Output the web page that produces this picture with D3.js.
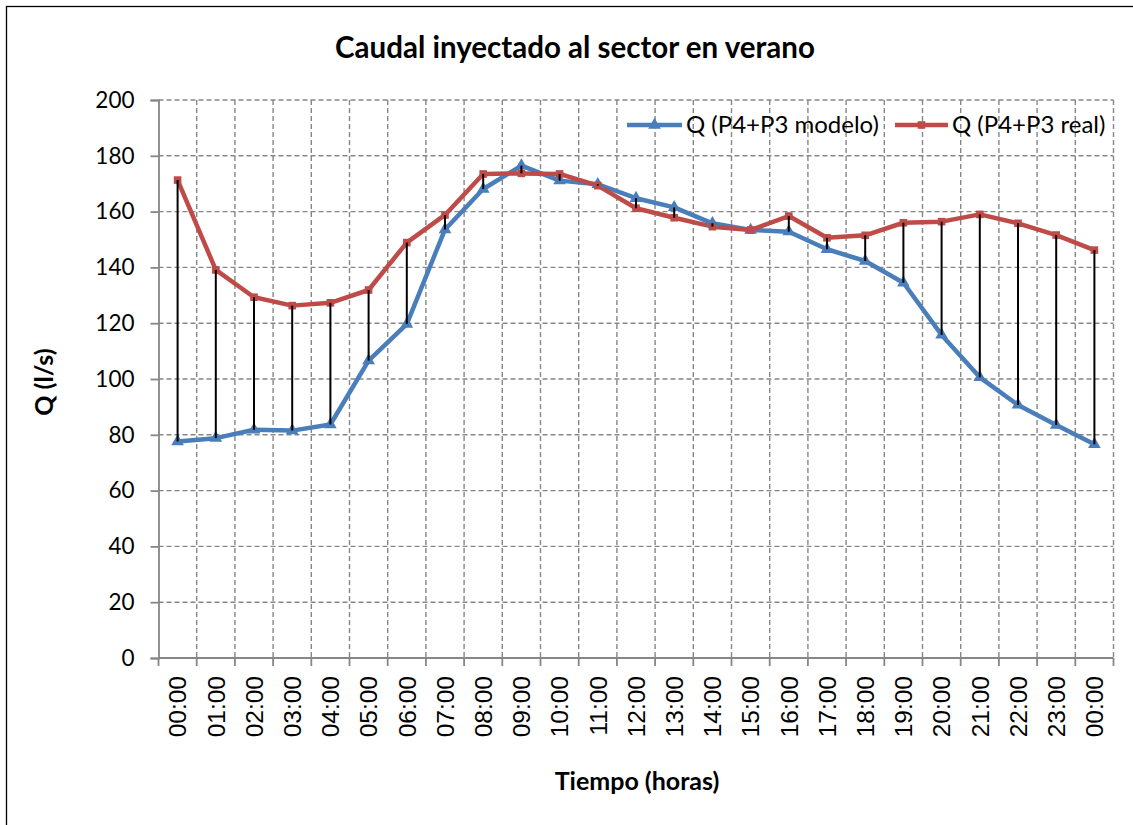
<!DOCTYPE html>
<html>
<head>
<meta charset="utf-8">
<script src="https://cdn.jsdelivr.net/npm/d3@7"></script>
<style>
  html, body { margin: 0; padding: 0; background: #fff; }
  svg { display: block; }
</style>
</head>
<body>
<svg id="chart" width="1133" height="825"></svg>
<script>
// Hourly labels along the time axis (the day wraps back to 00:00)
const horas = ["00:00","01:00","02:00","03:00","04:00","05:00","06:00","07:00","08:00","09:00",
               "10:00","11:00","12:00","13:00","14:00","15:00","16:00","17:00","18:00","19:00",
               "20:00","21:00","22:00","23:00","00:00"];

// Flow injected into the sector (l/s), model vs. measured
const qModelo = [77.6, 78.8, 81.8, 81.5, 83.7, 106.6, 119.7, 153.6, 168.1, 176.5,
                 171.1, 169.8, 164.8, 161.5, 155.8, 153.4, 152.8, 146.5, 142.3, 134.5,
                 115.8, 100.6, 90.7, 83.5, 76.6];
const qReal   = [171.3, 139.1, 129.3, 126.3, 127.3, 131.9, 148.9, 158.8, 173.5, 173.7,
                 173.5, 169.3, 161.2, 157.8, 154.6, 153.4, 158.4, 150.6, 151.5, 156.0,
                 156.4, 159.0, 155.8, 151.6, 146.2];

const yTicks = [0, 20, 40, 60, 80, 100, 120, 140, 160, 180, 200];

const seriesNames = ["Q (P4+P3 modelo)", "Q (P4+P3 real)"];
const seriesColors = ["#4A7EBB", "#BE4B48"];

const svg = d3.select("#chart");
const W = 1133, H = 825;
const plot = { left: 158.5, right: 1113.5, top: 100, bottom: 658 };
const gridColor = "#878787";
const sans = "Lato, 'Open Sans', sans-serif";

// Outer frame of the chart area
svg.append("rect")
  .attr("x", 6.5).attr("y", 6.5)
  .attr("width", W + 10).attr("height", H + 10)
  .attr("fill", "#fff").attr("stroke", "#000").attr("stroke-width", 1.3);

const idx = d3.range(horas.length);
const x = d3.scaleBand().domain(idx).range([plot.left, plot.right]).paddingInner(0).paddingOuter(0);
const y = d3.scaleLinear().domain([0, 200]).range([plot.bottom, plot.top]);
const cx = i => x(i) + x.bandwidth() / 2;

// Gridlines
const grid = svg.append("g");
yTicks.filter(v => v > 0).forEach(v => {
  grid.append("line")
    .attr("x1", plot.left).attr("x2", plot.right)
    .attr("y1", y(v)).attr("y2", y(v))
    .attr("stroke", gridColor).attr("stroke-width", 1.4)
    .attr("stroke-dasharray", "5,3");
});
d3.range(1, horas.length + 1).forEach(k => {
  const gx = plot.left + k * x.bandwidth();
  grid.append("line")
    .attr("x1", gx).attr("x2", gx)
    .attr("y1", plot.top).attr("y2", plot.bottom)
    .attr("stroke", gridColor).attr("stroke-width", 1.4)
    .attr("stroke-dasharray", "5,3");
});

// Y axis
const yAxis = d3.axisLeft(y).tickValues(yTicks).tickSize(8).tickPadding(16);
const yg = svg.append("g").attr("transform", `translate(${plot.left},0)`).call(yAxis);
yg.select(".domain").attr("stroke", gridColor).attr("stroke-width", 1.8);
yg.selectAll(".tick line").attr("stroke", gridColor).attr("stroke-width", 1.8);
yg.selectAll(".tick text")
  .attr("font-family", sans).attr("font-size", 22.5).attr("fill", "#000");

// X axis: ticks at band boundaries, labels centred in each band
const xg = svg.append("g").attr("transform", `translate(0,${plot.bottom})`);
xg.append("line")
  .attr("x1", plot.left).attr("x2", plot.right)
  .attr("stroke", gridColor).attr("stroke-width", 1.8);
d3.range(0, horas.length + 1).forEach(k => {
  const gx = plot.left + k * x.bandwidth();
  xg.append("line")
    .attr("x1", gx).attr("x2", gx).attr("y1", 0).attr("y2", 8)
    .attr("stroke", gridColor).attr("stroke-width", 1.8);
});
xg.selectAll("text.hora")
  .data(idx)
  .join("text")
  .attr("class", "hora")
  .attr("transform", i => `translate(${cx(i)},${18}) rotate(-90)`)
  .attr("text-anchor", "end")
  .attr("dy", "0.36em")
  .attr("font-family", "'Liberation Sans', Arial, sans-serif")
  .attr("font-size", 24.5)
  .attr("fill", "#000")
  .text(i => horas[i]);

// Series lines
const line = d3.line().x((d, i) => cx(i)).y(d => y(d));
const series = [qModelo, qReal];
series.forEach((vals, s) => {
  svg.append("path")
    .datum(vals)
    .attr("d", line)
    .attr("fill", "none")
    .attr("stroke", seriesColors[s])
    .attr("stroke-width", 4.5)
    .attr("stroke-linejoin", "round");
});

// Markers
const triangle = d3.symbol().type(d3.symbolTriangle).size(70);
const square = d3.symbol().type(d3.symbolSquare).size(58);
svg.append("g").selectAll("path")
  .data(qModelo)
  .join("path")
  .attr("d", triangle)
  .attr("transform", (d, i) => `translate(${cx(i)},${y(d)})`)
  .attr("fill", seriesColors[0]);
svg.append("g").selectAll("path")
  .data(qReal)
  .join("path")
  .attr("d", square)
  .attr("transform", (d, i) => `translate(${cx(i)},${y(d)})`)
  .attr("fill", seriesColors[1]);

// High-low lines joining both series at each hour
svg.append("g").selectAll("line")
  .data(idx)
  .join("line")
  .attr("x1", i => cx(i)).attr("x2", i => cx(i))
  .attr("y1", i => y(qReal[i])).attr("y2", i => y(qModelo[i]))
  .attr("stroke", "#000").attr("stroke-width", 2);

// Legend
const legend = svg.append("g");
const legendItems = [
  { name: seriesNames[0], color: seriesColors[0], sym: triangle, x0: 627, x1: 682, tx: 686 },
  { name: seriesNames[1], color: seriesColors[1], sym: square, x0: 895, x1: 948, tx: 952 }
];
const ly = 125;
legendItems.forEach(it => {
  legend.append("line")
    .attr("x1", it.x0).attr("x2", it.x1).attr("y1", ly).attr("y2", ly)
    .attr("stroke", it.color).attr("stroke-width", 4.5);
  legend.append("path")
    .attr("d", it.sym)
    .attr("transform", `translate(${(it.x0 + it.x1) / 2},${ly})`)
    .attr("fill", it.color);
  legend.append("text")
    .attr("x", it.tx).attr("y", ly).attr("dy", "0.35em")
    .attr("font-family", sans).attr("font-size", 24).attr("fill", "#000")
    .text(it.name);
});

// Title and axis titles
svg.append("text")
  .attr("x", 575).attr("y", 58)
  .attr("text-anchor", "middle")
  .attr("font-family", sans).attr("font-weight", "bold").attr("font-size", 29.5)
  .attr("fill", "#000")
  .text("Caudal inyectado al sector en verano");

svg.append("text")
  .attr("transform", "translate(44,382) rotate(-90)")
  .attr("text-anchor", "middle").attr("dy", "0.35em")
  .attr("font-family", sans).attr("font-weight", "bold").attr("font-size", 25)
  .attr("fill", "#000")
  .text("Q (l/s)");

svg.append("text")
  .attr("x", 637).attr("y", 781).attr("dy", "0.35em")
  .attr("text-anchor", "middle")
  .attr("font-family", sans).attr("font-weight", "bold").attr("font-size", 25)
  .attr("fill", "#000")
  .text("Tiempo (horas)");
</script>
</body>
</html>
